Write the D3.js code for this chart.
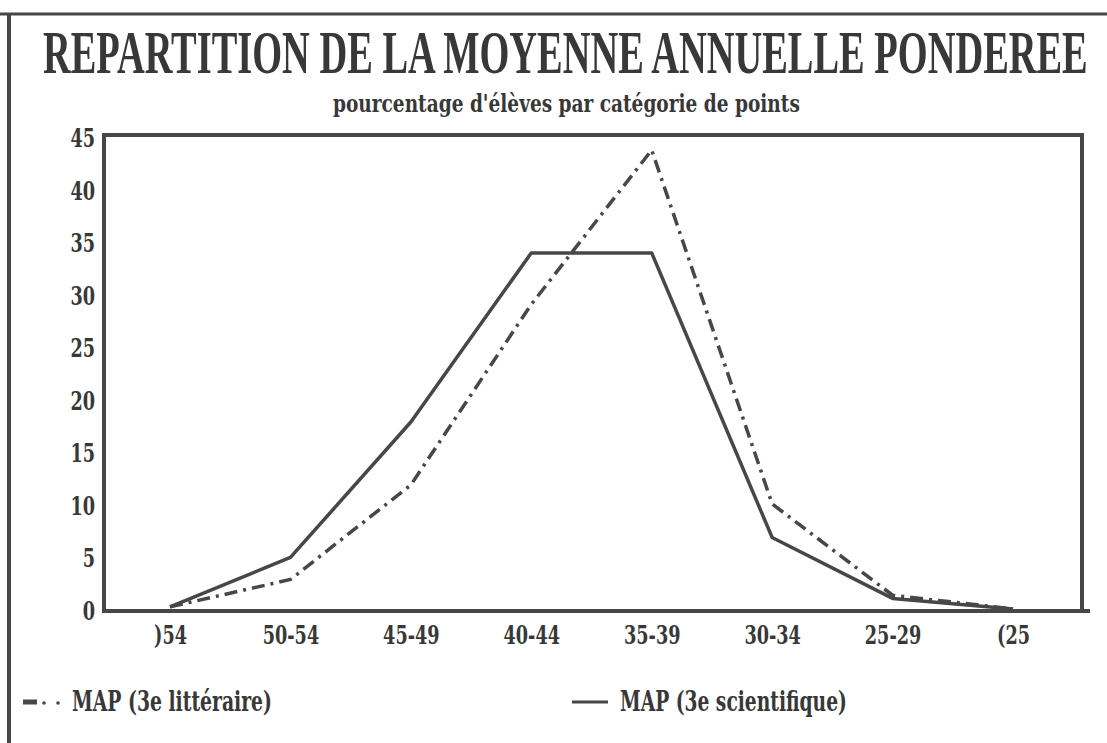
<!DOCTYPE html>
<html>
<head>
<meta charset="utf-8">
<script src="https://cdn.jsdelivr.net/npm/d3@7"></script>
<style>
  body { margin: 0; background: #fff; }
  svg { display: block; }
</style>
</head>
<body>
<script>
// categories and series
var categories = [")54", "50-54", "45-49", "40-44", "35-39", "30-34", "25-29", "(25"];
var litteraire = [0.4, 3.0, 12.0, 29.2, 43.9, 10.2, 1.5, 0.2];
var scientifique = [0.4, 5.1, 18.0, 34.1, 34.1, 7.0, 1.2, 0.2];
var y_ticks = [0, 5, 10, 15, 20, 25, 30, 35, 40, 45];

var title_text = "REPARTITION DE LA MOYENNE ANNUELLE PONDEREE";
var subtitle_text = "pourcentage d'élèves par catégorie de points";
var legend_names = ["MAP (3e littéraire)", "MAP (3e scientifique)"];

var width = 1107, height = 743;
var ink = "#474747";
var font = "'DejaVu Serif', 'Liberation Serif', serif";

var svg = d3.select("body").append("svg").attr("width", width).attr("height", height);

// squeeze a text horizontally so it spans from x to x+w (scan font is very condensed)
function fit_text(x, y, w, size, family, txt) {
  var g = svg.append("g");
  var t = g.append("text").attr("x", 0).attr("y", 0)
     .style("font-family", family).style("font-weight", "bold")
     .style("font-size", size + "px").attr("fill", "#383838").text(txt);
  var len = t.node().getComputedTextLength();
  g.attr("transform", "translate(" + x + "," + y + ") scale(" + (w / len) + ",1)");
  return t;
}

// outer border from the scan (top and left edge only)
svg.append("line").attr("x1", 0).attr("x2", width).attr("y1", 14).attr("y2", 14)
   .attr("stroke", ink).attr("stroke-width", 3);
svg.append("line").attr("x1", 9).attr("x2", 9).attr("y1", 13).attr("y2", height)
   .attr("stroke", ink).attr("stroke-width", 4);

// titles
fit_text(43, 73, 1045, 62, "'Liberation Serif', serif", title_text);
fit_text(333, 112, 467, 25, font, subtitle_text);

// plot frame
var left = 104, right = 1082, top_ = 135, bottom = 611;
var x_scale = d3.scalePoint().domain(categories).range([170, 1013]);
var y_scale = d3.scaleLinear().domain([0, 45]).range([bottom, 138.5]);

svg.append("rect").attr("x", left).attr("y", top_).attr("width", right - left).attr("height", bottom - top_)
   .attr("fill", "none").attr("stroke", ink).attr("stroke-width", 4);
svg.append("line").attr("x1", left - 2).attr("x2", 1090).attr("y1", bottom).attr("y2", bottom)
   .attr("stroke", ink).attr("stroke-width", 4);

var sx = 0.68;
function squeeze_ticks(g) {
  g.select(".domain").remove();
  g.selectAll("text").each(function() {
    var t = d3.select(this);
    t.attr("x", (+t.attr("x") || 0) / sx).attr("transform", "scale(" + sx + ",1)");
  });
  g.selectAll("text").style("font-family", font).style("font-weight", "bold")
   .style("font-size", "26px").attr("fill", "#383838");
}

svg.append("g").attr("transform", "translate(" + left + ",0)")
   .call(d3.axisLeft(y_scale).tickValues(y_ticks).tickSize(0).tickPadding(9))
   .call(squeeze_ticks);

svg.append("g").attr("transform", "translate(0," + bottom + ")")
   .call(d3.axisBottom(x_scale).tickSize(0).tickPadding(15))
   .call(squeeze_ticks);

// series
var line = d3.line().x((d, i) => x_scale(categories[i])).y(d => y_scale(d));

svg.append("path").datum(scientifique).attr("d", line)
   .attr("fill", "none").attr("stroke", ink).attr("stroke-width", 3.5)
   .attr("stroke-linejoin", "round");
svg.append("path").datum(litteraire).attr("d", line)
   .attr("fill", "none").attr("stroke", ink).attr("stroke-width", 3.5)
   .attr("stroke-dasharray", "13,6,3,6");

// legend
svg.append("path").attr("d", "M23,702L37,702").attr("stroke", ink).attr("stroke-width", 5);
svg.append("circle").attr("cx", 44).attr("cy", 703).attr("r", 1.8).attr("fill", ink);
svg.append("circle").attr("cx", 58).attr("cy", 703).attr("r", 1.8).attr("fill", ink);
fit_text(72, 711, 200, 27, font, legend_names[0]);

svg.append("path").attr("d", "M572,702L608,702").attr("stroke", ink).attr("stroke-width", 3);
fit_text(620, 711, 227, 27, font, legend_names[1]);
</script>
</body>
</html>
